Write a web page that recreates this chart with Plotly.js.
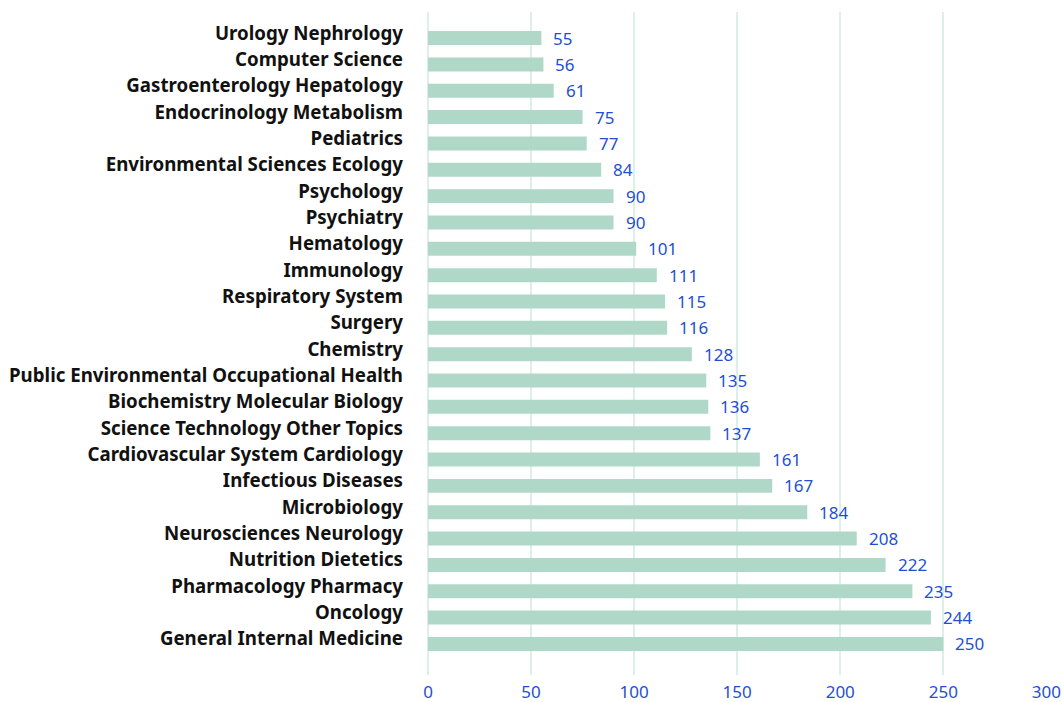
<!DOCTYPE html>
<html><head><meta charset="utf-8">
<script src="https://cdn.plot.ly/plotly-3.0.1.min.js"></script>
<style>html,body{margin:0;padding:0;background:#fff}</style>
</head><body>
<div id="chart" style="width:1062px;height:702px"></div>
<script>
const categories = ["General Internal Medicine","Oncology","Pharmacology Pharmacy","Nutrition Dietetics","Neurosciences Neurology","Microbiology","Infectious Diseases","Cardiovascular System Cardiology","Science Technology Other Topics","Biochemistry Molecular Biology","Public Environmental Occupational Health","Chemistry","Surgery","Respiratory System","Immunology","Hematology","Psychiatry","Psychology","Environmental Sciences Ecology","Pediatrics","Endocrinology Metabolism","Gastroenterology Hepatology","Computer Science","Urology Nephrology"];
const counts = [250,244,235,222,208,184,167,161,137,136,135,128,116,115,111,101,90,90,84,77,75,61,56,55];
const tickVals = [0,50,100,150,200,250,300];

const trace = {
  type:'bar', orientation:'h', x:counts, y:categories,
  marker:{color:'#b0d8c8'}, hoverinfo:'none'
};
const annotations = counts.map((v,i)=>({
  x:v, y:categories[i], xref:'x', yref:'y', text:String(v), showarrow:false,
  xanchor:'left', yanchor:'middle', xshift:10,
  font:{family:'Noto Sans', size:17, color:'#1f4fd1'}
}));
const layout = {
  width:1062, height:702,
  margin:{l:428, r:15, t:12, b:27},
  paper_bgcolor:'#fff', plot_bgcolor:'#fff',
  bargap:0.47, showlegend:false,
  font:{family:'Noto Sans'},
  xaxis:{range:[0,300.3], tickvals:tickVals, showgrid:true, gridcolor:'#dcefe8', gridwidth:2,
    zeroline:true, zerolinecolor:'#dcefe8', zerolinewidth:2, showline:false,
    tickfont:{family:'Noto Sans', size:17, color:'#1f4fd1'}, ticks:'', ticklen:0, ticklabelstandoff:5},
  yaxis:{type:'category', categoryarray:categories, range:[-1.18,23.99], showgrid:false, zeroline:false,
    tickfont:{family:'Noto Sans', size:18.7, color:'#111', weight:'bold'}, ticks:'', ticklen:0,
    ticklabelstandoff:24, ticklabelshift:-5},
  annotations:annotations
};
Plotly.newPlot('chart',[trace],layout,{displayModeBar:false,staticPlot:true});
</script>
</body></html>
